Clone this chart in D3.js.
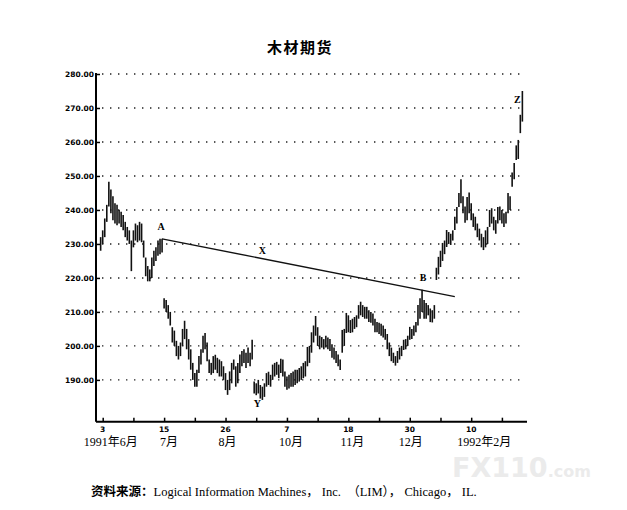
<!DOCTYPE html>
<html><head><meta charset="utf-8">
<script src="https://cdn.jsdelivr.net/npm/d3@7"></script>
<style>body{margin:0;background:#fff}</style>
</head><body>
<svg id="c" width="627" height="510"></svg>
<script>
// ---- data ----
const startIndex = -1;
const highs = [232,234,237.5,241.5,248.3,246,244,242,241.5,240,239.5,238.5,236.5,235,234,231,234,236,235.5,236.5,236,231,226,223.5,222.5,226,228,229,231,231.5,231.5,
214,213.5,212,210,205.5,204.5,201.5,200,201,205,207.4,205,202,199,195,192,193,197,199,203,203.8,201,196,195,197,197.4,196.5,196,195.5,194,192,190,192.5,195,196,194,195,197.5,198.5,199,198,199.5,198,201.8,
189.5,189,190,188.5,188,189,192,192.4,191.5,194.5,195,195.3,194.5,196.2,196,192.5,191,191.5,192,192.5,193,193,193.5,194,195,195.5,199.7,200,204,206,208.8,205.5,203,202.6,202,203,202.5,202,200.5,199.5,198.5,197.5,196,204.7,205,209.7,209,207.6,208,208.5,209,212,213,212,211.5,211.5,210.5,210,209.5,208,207,206.8,206.5,206,205,203.5,201,199.5,198,197,198.5,199.5,200,201.8,202,203,205.6,205,206,207,212,214,216.5,213.5,212.6,212,211,210.5,212,
223,226.2,228,230.3,231,234.1,233.5,233,234,238,240.9,245,249,244,241,243.8,245.1,242,239,238,236,234.5,233,232,234,235,240,240.5,238,237,240.9,241,240,239,239.5,245,244,251,253.8,259,260.6,268,275];
const lows = [228,230,232,236.5,241,239,237,236,235.5,236,235,234,232,231,230,222,229,231,230.5,231,230.5,226,220.5,219,219,220,223.5,225,226.5,227,227.5,
211,210,208,206,201,200,197,196,197,200,202,199,196,193,190,188,188,192,194.5,198,199,195.5,192,191.5,192,193,192,191,191,190,187,185.6,187,189,193,188,189,192,194,195,193.5,195,194,196,
186,185.5,186,184.5,184.1,185,188,188.5,188,190,191,191.5,190.5,192,191,188,187.1,187.5,188,188,188.5,189,189.5,190,190.5,191,194,195,198,201,203,200,199,199.5,199,199.5,199,198.5,196.5,196,195,194,192.9,198,200,203.8,204,203.8,204,205,205.5,208,209,208.5,208,208,207,206.8,206,204,204,203.5,203,202.5,201.8,199,197,195.5,195,194.2,195,196,197,198.8,199,200,201.8,202,203,204,206,208,210,208,208,209,207,206.9,208,
219.4,221,223.2,225,227,229.1,230,229.7,231,234.1,236,240.9,242,239,236.2,237,239,237,235,234,232,231,229,228.2,229,230,235,236,234,233,236,237,236,235,236,239,240,246.8,249,254.7,255,262.6,266];
const yTicks = [280,270,260,250,240,230,220,210,200,190];
const xTickIdx = [0,15,30,45,60,75,90,105,120,135,150,165,180,195];
const dayLabels = ["3","15","26","7","18","30","10"];
const monthLabels = ["1991年6月","7月","8月","10月","11月","12月","1992年2月"];
const trendLine = [{i:29,p:231.5},{i:172,p:214.5}];
const notes = [{t:"A",i:28.5,p:234},{t:"X",i:78,p:227},{t:"B",i:156.5,p:219},{t:"Y",i:75.5,p:182},{t:"Z",i:202.5,p:271.5}];
const title = "木材期货";
const source = ["资料来源：","Logical Information Machines， Inc.  （LIM）， Chicago， IL."];

// ---- chart ----
const svg = d3.select("#c");
const x = d3.scaleLinear().domain([0,195]).range([102.7,501.9]);
const y = d3.scaleLinear().domain([177.7,280]).range([421.7,74]);
const left = 96, right = 527, bottom = 421.7;

svg.append("text").attr("x",300).attr("y",53).attr("text-anchor","middle")
  .attr("font-family","'Noto Sans CJK SC'").attr("font-weight","bold").attr("font-size",15)
  .attr("letter-spacing",1.5).text(title);

// gridlines
svg.append("g").selectAll("line").data(yTicks).join("line")
  .attr("x1",left+6).attr("x2",right-2).attr("y1",d=>y(d)).attr("y2",d=>y(d))
  .attr("stroke","#222").attr("stroke-width",1.4).attr("stroke-dasharray","1.4,6.6");

// y axis
const ya = svg.append("g").attr("transform",`translate(${left},0)`)
  .call(d3.axisRight(y).tickValues(yTicks).tickSize(4).tickFormat(""));
ya.select(".domain").remove();
ya.selectAll("line").attr("stroke","#000").attr("stroke-width",1.5);
svg.append("line").attr("x1",left).attr("x2",left).attr("y1",73).attr("y2",bottom)
  .attr("stroke","#000").attr("stroke-width",2);
svg.append("g").selectAll("text").data(yTicks).join("text")
  .attr("x",left-2).attr("y",d=>y(d)+3).attr("text-anchor","end")
  .attr("font-family","'DejaVu Sans'").attr("font-weight","bold").attr("font-size",7.5)
  .text(d=>d.toFixed(2));

// x axis
const xa = svg.append("g").attr("transform",`translate(0,${bottom})`)
  .call(d3.axisTop(x).tickValues(xTickIdx).tickSize(4).tickFormat(""));
xa.select(".domain").remove();
xa.selectAll("line").attr("stroke","#000").attr("stroke-width",1.5);
svg.append("line").attr("x1",left).attr("x2",right).attr("y1",bottom).attr("y2",bottom)
  .attr("stroke","#000").attr("stroke-width",2);
const labIdx = xTickIdx.filter((d,k)=>k%2===0);
svg.append("g").selectAll("text").data(dayLabels).join("text")
  .attr("x",(d,k)=>x(labIdx[k])).attr("y",432).attr("text-anchor","middle")
  .attr("font-family","'DejaVu Sans'").attr("font-weight","bold").attr("font-size",7.5).text(d=>d);
const monthDx = [8,5,2,4,4,1,13];
svg.append("g").selectAll("text").data(monthLabels).join("text")
  .attr("x",(d,k)=>x(labIdx[k])+monthDx[k]).attr("y",446).attr("text-anchor","middle")
  .attr("font-family","'Liberation Serif','Noto Sans CJK SC'").attr("font-size",12).text(d=>d);

// bars
const bars = highs.map((h,k)=>({i:startIndex+k,h:h,l:lows[k]}));
svg.append("g").selectAll("line").data(bars).join("line")
  .attr("x1",d=>x(d.i)).attr("x2",d=>x(d.i)).attr("y1",d=>y(d.h)).attr("y2",d=>y(d.l))
  .attr("stroke","#111").attr("stroke-width",1.6);

// trend line
svg.append("path").datum(trendLine)
  .attr("d",d3.line().x(d=>x(d.i)).y(d=>y(d.p)))
  .attr("stroke","#111").attr("stroke-width",1.4).attr("fill","none");

// annotations
svg.append("g").selectAll("text").data(notes).join("text")
  .attr("x",d=>x(d.i)).attr("y",d=>y(d.p)).attr("text-anchor","middle")
  .attr("font-family","'Liberation Serif'").attr("font-weight","bold").attr("font-size",10).text(d=>d.t);

// source
const src = svg.append("text").attr("x",91).attr("y",496).attr("font-size",12.5).attr("xml:space","preserve");
src.append("tspan").attr("font-family","'Noto Sans CJK SC'").attr("font-weight","bold").text(source[0]);
src.append("tspan").attr("font-family","'Liberation Serif','Noto Sans CJK SC'").text(source[1]);

// watermark
const wm = svg.append("text").attr("x",452).attr("y",477).attr("fill","#ebebeb")
  .attr("font-family","'DejaVu Sans'").attr("font-weight","bold");
wm.append("tspan").attr("font-size",27).text("FX110");
wm.append("tspan").attr("font-size",16).text(".com");
</script>
</body></html>
